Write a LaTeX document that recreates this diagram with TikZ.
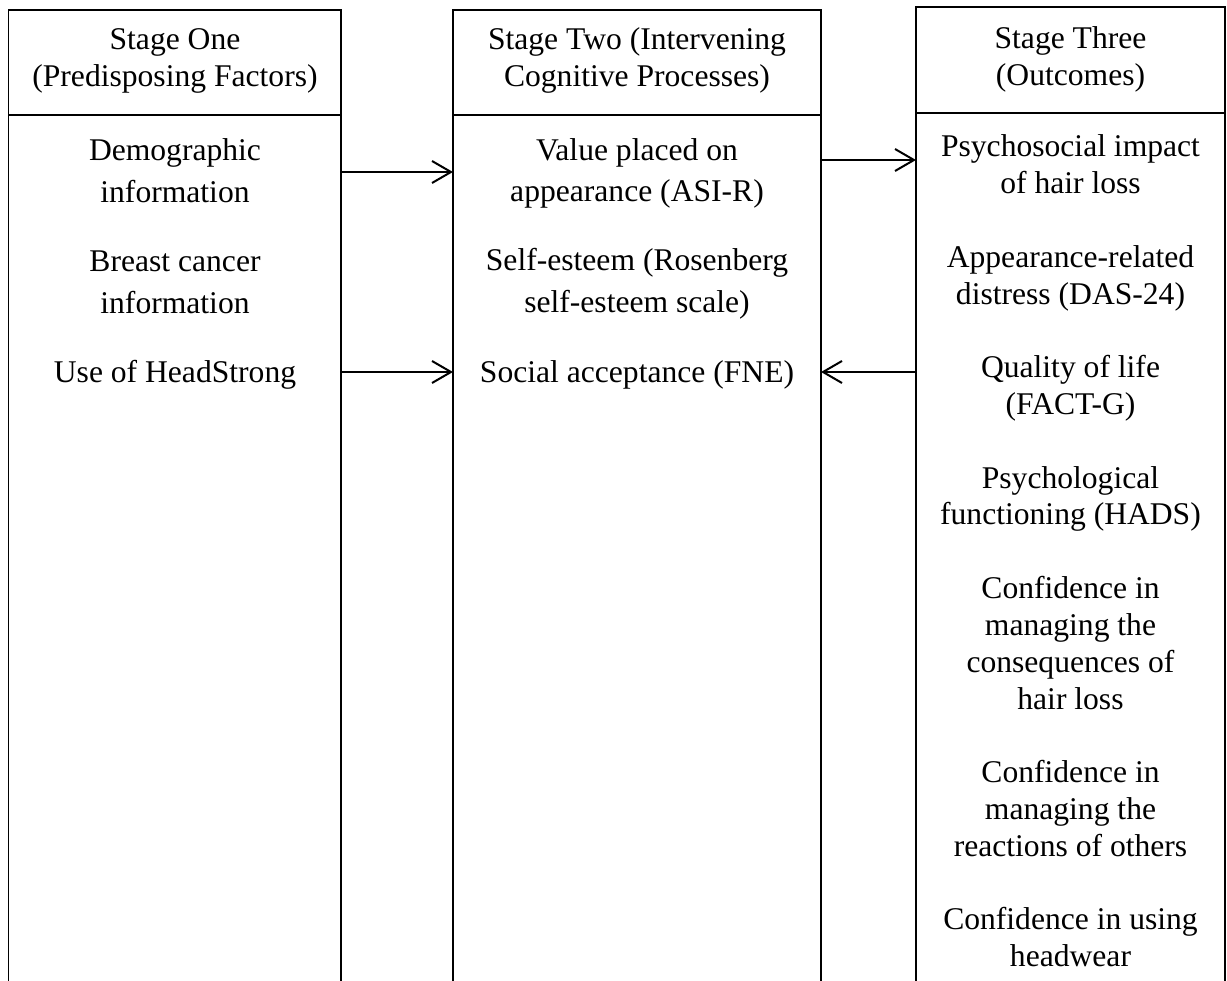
\documentclass[tikz,border=0pt]{standalone}
\usepackage{fontspec}
\setmainfont{Liberation Serif}
\usetikzlibrary{arrows.meta}
% centred lines whose baseline is that of the first line
\newcommand{\linestack}[1]{\begin{tabular}[t]{@{}c@{}}#1\end{tabular}}
\begin{document}
\begin{tikzpicture}[x=1pt,y=-1pt,
  txt/.style={anchor=base, inner sep=0pt},
  headtxt/.style={txt, font=\fontsize{31.6}{37}\selectfont},
  itemtxt/.style={txt, font=\fontsize{31.6}{41.5}\selectfont},
  outtxt/.style={txt, font=\fontsize{31.6}{36.8}\selectfont},
  frame/.style={line width=1.2pt},
  flow/.style={line width=2pt, -{Straight Barb[length=19pt,width=22pt,line width=2pt]}}]
\useasboundingbox (0,0) rectangle (1227,981);

% three stage columns, open at the bottom
\draw[frame] (8.5,981) -- (8.5,10) -- (341,10) -- (341,981);
\draw[frame] (8.5,115) -- (341,115);
\draw[frame] (453,981) -- (453,10) -- (821,10) -- (821,981);
\draw[frame] (453,115) -- (821,115);
\draw[frame] (916,981) -- (916,7) -- (1225,7) -- (1225,981);
\draw[frame] (916,113) -- (1225,113);

% headers
\node[headtxt] (h1) at (175,50) {\linestack{Stage One\\(Predisposing Factors)}};
\node[headtxt] (h2) at (637,50) {\linestack{Stage Two (Intervening\\Cognitive Processes)}};
\node[headtxt] (h3) at (1070.5,48.5) {\linestack{Stage Three\\(Outcomes)}};

% stage one
\node[itemtxt] (s1a) at (175,161) {\linestack{Demographic\\information}};
\node[itemtxt] (s1b) at (175,272) {\linestack{Breast cancer\\information}};
\node[itemtxt] (s1c) at (175,383) {\linestack{Use of HeadStrong}};

% stage two
\node[itemtxt] (s2a) at (637,160.5) {\linestack{Value placed on\\appearance (ASI-R)}};
\node[itemtxt] (s2b) at (637,271) {\linestack{Self-esteem (Rosenberg\\self-esteem scale)}};
\node[itemtxt] (s2c) at (637,383) {\linestack{Social acceptance (FNE)}};

% stage three
\node[outtxt] (s3a) at (1070.5,157) {\linestack{Psychosocial impact\\of hair loss}};
\node[outtxt] (s3b) at (1070.5,267.4) {\linestack{Appearance-related\\distress (DAS-24)}};
\node[outtxt] (s3c) at (1070.5,377.8) {\linestack{Quality of life\\(FACT-G)}};
\node[outtxt] (s3d) at (1070.5,488.2) {\linestack{Psychological\\functioning (HADS)}};
\node[outtxt] (s3e) at (1070.5,598.6) {\linestack{Confidence in\\managing the\\consequences of\\hair loss}};
\node[outtxt] (s3f) at (1070.5,782.6) {\linestack{Confidence in\\managing the\\reactions of others}};
\node[outtxt] (s3g) at (1070.5,929.8) {\linestack{Confidence in using\\headwear}};

% arrow ends on the column edges
\coordinate (c1top) at (341,172);
\coordinate (c2topL) at (453,172);
\coordinate (c2topR) at (821,160);
\coordinate (c3top) at (916,160);
\coordinate (c1low) at (341,372);
\coordinate (c2lowL) at (453,372);
\coordinate (c2lowR) at (821,372);
\coordinate (c3low) at (916,372);

\draw[flow] (c1top) -- (c2topL);
\draw[flow] (c2topR) -- (c3top);
\draw[flow] (c1low) -- (c2lowL);
\draw[flow] (c3low) -- (c2lowR);
\end{tikzpicture}
\end{document}
